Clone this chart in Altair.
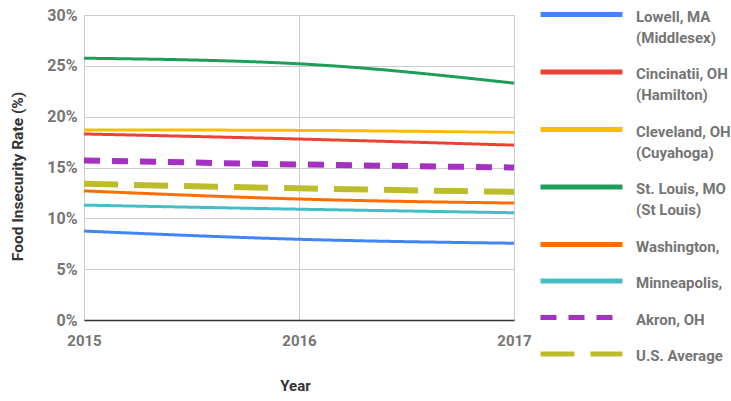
import altair as alt
import pandas as pd

# Food insecurity rate (%) by area, 2015-2017
years = [2015, 2016, 2017]
series = [
    "Lowell, MA (Middlesex)",
    "Cincinatii, OH (Hamilton)",
    "Cleveland, OH (Cuyahoga)",
    "St. Louis, MO (St Louis)",
    "Washington,",
    "Minneapolis,",
    "Akron, OH",
    "U.S. Average",
]
lowell = [8.75, 7.94, 7.55]
cincinnati = [18.3, 17.8, 17.2]
cleveland = [18.7, 18.65, 18.45]
st_louis = [25.75, 25.2, 23.3]
washington = [12.7, 11.9, 11.5]
minneapolis = [11.3, 10.9, 10.55]
akron = [15.7, 15.3, 15.0]
us_average = [13.4, 12.95, 12.6]

values = [lowell, cincinnati, cleveland, st_louis, washington, minneapolis, akron, us_average]

colors = ["#4285F4", "#EA4335", "#FBBC04", "#1E9E58", "#FF6D01", "#46BDC6", "#A630C2", "#BDBD2B"]
dashes = [[1, 0]] * 6 + [[16, 12], [34, 16]]
dashed_series = ["Akron, OH", "U.S. Average"]

rows = []
for name, vals in zip(series, values):
    for yr, v in zip(years, vals):
        rows.append({"series": name, "year": yr, "rate": v})
df = pd.DataFrame(rows)

FONT = "Roboto"
LABEL_GRAY = "#757575"

# legend key: a long horizontal stroke drawn from a small symbol box,
# nudged down so it sits beside the first label line
legend = alt.Legend(
    title=None,
    orient="none",
    legendX=454,
    legendY=-13,
    symbolType="M-1,1H15.4",
    symbolSize=100,
    symbolStrokeWidth=5,
    labelFont=FONT,
    labelFontSize=15,
    labelFontWeight="bold",
    labelColor=LABEL_GRAY,
    labelBaseline="top",
    labelOffset=83,
    labelLimit=200,
    rowPadding=13.5,
    padding=0,
    labelExpr=(
        "indexof(datum.label, ' (') > 0 ? "
        "[substring(datum.label, 0, indexof(datum.label, ' (')), "
        "substring(datum.label, indexof(datum.label, ' (') + 1)] : datum.label"
    ),
)

x_enc = alt.X(
    "year:O",
    scale=alt.Scale(type="point", padding=0),
    axis=alt.Axis(
        title="Year",
        labelAngle=0,
        grid=True,
        gridColor="#cccccc",
        domain=True,
        domainColor="#333333",
        domainWidth=1.5,
        ticks=False,
        labelPadding=13,
        labelOverlap=False,
        labelFont=FONT,
        labelFontSize=15,
        labelFontWeight="bold",
        labelColor=LABEL_GRAY,
        titleFont=FONT,
        titleFontSize=15,
        titleFontWeight="bold",
        titleColor="#333333",
        titleX=211,
        titleY=65,
        titleBaseline="middle",
    ),
)

y_enc = alt.Y(
    "rate:Q",
    scale=alt.Scale(domain=[0, 30], nice=False),
    axis=alt.Axis(
        values=[0, 5, 10, 15, 20, 25, 30],
        labelExpr="datum.value + '%'",
        title="Food Insecurity Rate (%)",
        grid=True,
        gridColor="#cccccc",
        domain=False,
        ticks=False,
        labelPadding=7,
        labelFont=FONT,
        labelFontSize=16,
        labelFontWeight="bold",
        labelColor=LABEL_GRAY,
        titleFont=FONT,
        titleFontSize=15.5,
        titleFontWeight="bold",
        titleColor="#333333",
        titleX=-67,
        titleY=161,
        titleBaseline="middle",
    ),
)

color_enc = alt.Color("series:N", scale=alt.Scale(domain=series, range=colors), legend=legend)
dash_enc = alt.StrokeDash("series:N", scale=alt.Scale(domain=series, range=dashes), legend=legend)

solid = (
    alt.Chart(df)
    .transform_filter(alt.FieldOneOfPredicate(field="series", oneOf=series[:6]))
    .mark_line(interpolate="monotone", strokeWidth=3)
    .encode(x=x_enc, y=y_enc, color=color_enc, strokeDash=dash_enc)
)

dashed = (
    alt.Chart(df)
    .transform_filter(alt.FieldOneOfPredicate(field="series", oneOf=dashed_series))
    .mark_line(interpolate="monotone", strokeWidth=6)
    .encode(x=x_enc, y=y_enc, color=color_enc, strokeDash=dash_enc)
)

chart = (
    alt.layer(solid, dashed)
    .properties(
        width=430,
        height=305,
        autosize=alt.AutoSizeParams(type="none"),
        padding={"left": 84, "top": 15, "right": 217, "bottom": 81},
    )
    .configure_view(stroke=None)
    .configure(style={"guide-label": {"lineHeight": 21}})
)

chart.save("out.html", embed_options={"renderer": "svg", "actions": False})
